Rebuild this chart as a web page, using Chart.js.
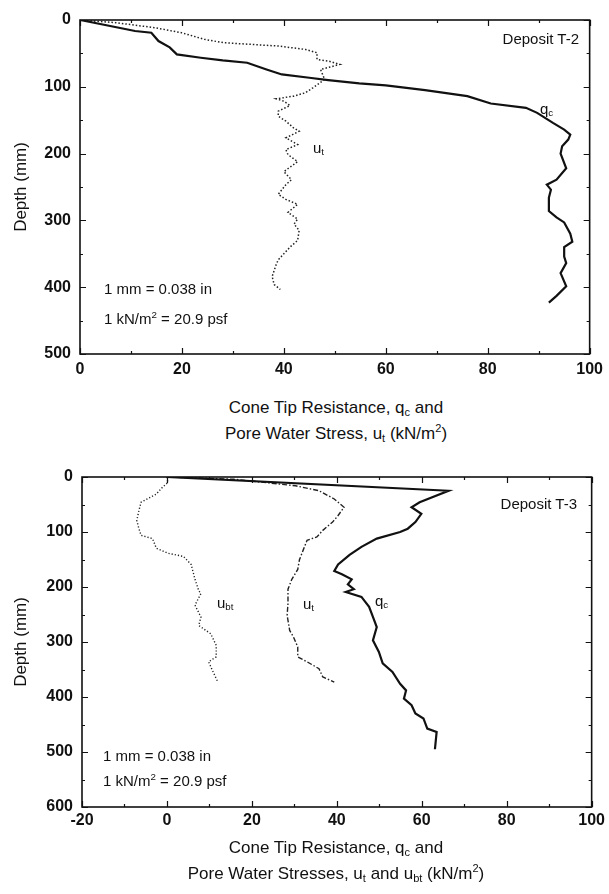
<!DOCTYPE html>
<html>
<head>
<meta charset="utf-8">
<script src="https://cdn.jsdelivr.net/npm/chart.js@4.4.0/dist/chart.umd.min.js"></script>
<style>
  html, body { margin: 0; padding: 0; background: #fff; }
  #page { position: relative; width: 609px; height: 894px; font-family: 'Liberation Sans', Arial, sans-serif; color: #111; }
  .box { position: absolute; left: 0; }
  .lbl { position: absolute; white-space: nowrap; line-height: 1; transform: translateY(-50%); }
  .cap { position: absolute; left: 0; width: 672px; text-align: center; white-space: nowrap; font-size: 17px; line-height: 1; transform: translateY(-50%); }
  .ytitle { position: absolute; font-size: 17px; white-space: nowrap; line-height: 1; transform: translate(-50%, -50%) rotate(-90deg); }
  sub { font-size: 65%; vertical-align: -0.3em; line-height: 0; }
  sup { font-size: 65%; vertical-align: 0.6em; line-height: 0; }
</style>
</head>
<body>
<div id="page">
  <div class="box" style="top:0; width:609px; height:395px;"><canvas id="chartT2" width="609" height="395"></canvas></div>
  <div class="box" style="top:457px; width:609px; height:385px;"><canvas id="chartT3" width="609" height="385"></canvas></div>

  <!-- Deposit T-2 -->
  <div class="ytitle" style="left:20px; top:187px;">Depth (mm)</div>
  <div class="lbl" style="right:30px; top:38px; font-size:15px;">Deposit T-2</div>
  <div class="lbl" style="left:540px; top:108px; font-size:15px;">q<sub>c</sub></div>
  <div class="lbl" style="left:313px; top:147px; font-size:15px;">u<sub>t</sub></div>
  <div class="lbl" style="left:104px; top:288px; font-size:15px;">1 mm = 0.038 in</div>
  <div class="lbl" style="left:104px; top:318px; font-size:15px;">1 kN/m<sup>2</sup> = 20.9 psf</div>
  <div class="cap" style="top:407px;">Cone Tip Resistance, q<sub>c</sub> and</div>
  <div class="cap" style="top:433px;">Pore Water Stress, u<sub>t</sub> (kN/m<sup>2</sup>)</div>

  <!-- Deposit T-3 -->
  <div class="ytitle" style="left:20px; top:642px;">Depth (mm)</div>
  <div class="lbl" style="right:32px; top:503px; font-size:15px;">Deposit T-3</div>
  <div class="lbl" style="left:217px; top:602px; font-size:15px;">u<sub>bt</sub></div>
  <div class="lbl" style="left:303px; top:603px; font-size:15px;">u<sub>t</sub></div>
  <div class="lbl" style="left:375px; top:600px; font-size:15px;">q<sub>c</sub></div>
  <div class="lbl" style="left:103px; top:755px; font-size:15px;">1 mm = 0.038 in</div>
  <div class="lbl" style="left:103px; top:780px; font-size:15px;">1 kN/m<sup>2</sup> = 20.9 psf</div>
  <div class="cap" style="top:847px;">Cone Tip Resistance, q<sub>c</sub> and</div>
  <div class="cap" style="top:873px;">Pore Water Stresses, u<sub>t</sub> and u<sub>bt</sub> (kN/m<sup>2</sup>)</div>
</div>

<script>
// ---- Deposit T-2 : cone tip resistance q_c ----
var t2QcDepth = [0, 16.5, 19, 31.5, 41, 51.5, 56.5, 60.5, 64, 74, 81.5, 86.5, 90, 95, 98, 105, 114, 125, 131.5, 139, 154, 164, 171.5, 179, 189, 200,
                 222, 239, 246.5, 254, 266, 286, 295.5, 303, 320, 332, 340, 354, 364, 379, 398.5, 413, 423];
var t2Qc      = [0, 10.8, 14, 15.4, 17.6, 19, 23.7, 28, 32.8, 36.6, 39.6, 45, 48.7, 54.8, 60, 67.7, 76, 80.6, 87.5, 89.7, 92.8, 95, 96.2, 95.8, 94.6, 94.3,
                 95.4, 93.5, 91.6, 92.4, 92, 92, 93.5, 95, 96.2, 96.6, 95, 95, 95.4, 94.3, 95.4, 93.5, 92];

// ---- Deposit T-2 : pore water stress u_t ----
var t2UtDepth = [0, 4, 11.5, 19, 29, 34, 36.5, 39, 44, 49, 59, 61.5, 66.5, 74, 89, 101.5, 109, 114, 118, 121.5, 128, 136.5, 144, 151.5, 161.5, 166.5, 176.5, 186.5, 194, 201.5,
                 212, 227, 239, 246.5, 261, 268.5, 276, 288, 298, 305.5, 315, 330, 340, 359, 366, 384, 396, 403.5];
var t2Ut      = [0, 7, 14.6, 19.9, 24.4, 28.2, 33.6, 38.9, 44.2, 46.5, 46.5, 48.8, 51, 47.2, 48, 45.7, 44.2, 41.9, 38.5, 40, 41.2, 38.9, 38.9, 40.4, 41.9, 43, 40.4, 42.7, 40.4, 40.8,
                 42.7, 40, 41.5, 40.4, 38.9, 40.4, 42.7, 40.8, 42.7, 42, 43, 42.7, 41.2, 38.9, 38.5, 37.7, 38.1, 39.3];

// ---- Deposit T-3 : cone tip resistance q_c ----
var t3QcDepth = [0, 25, 46, 55, 67, 82, 94, 100, 112, 127, 141.5, 159, 171, 177, 186, 195, 204, 209, 218, 227, 236, 254.5, 273, 297, 318, 339, 354.5, 376, 388, 403, 415, 430, 439, 457.5, 463.6, 495];
var t3Qc      = [0, 66.3, 59.5, 57.6, 59.9, 58.5, 56.7, 54.9, 49.4, 45.8, 43, 40.3, 39.4, 41.2, 43.5, 42.6, 44, 42.1, 45.8, 46.7, 47.6, 48.5, 49.4, 48.5, 49.9, 50.8, 53.1, 54.9, 56.3, 55.8, 57.6, 58.5, 60.4, 61.3, 63.5, 63.1];

// ---- Deposit T-3 : pore water stress u_t ----
var t3UtDepth = [0, 4, 16, 25, 40, 55, 70, 82, 97, 109, 115, 132.5, 150.5, 168, 186, 204, 230, 251.5, 279, 291, 309, 327, 336, 348.5, 363.6, 373];
var t3Ut      = [0, 15.7, 30.3, 35.8, 39.4, 41.7, 40.3, 39, 36.7, 35.3, 33, 32.1, 31.2, 30.8, 29.4, 28.5, 28.5, 28.3, 28.9, 29.8, 30.8, 30.8, 33, 35.8, 36.7, 39.4];

// ---- Deposit T-3 : pore water stress u_bt ----
var t3UbtDepth = [0, 10, 19, 31, 46, 61, 79, 94, 106, 112, 129.5, 138.5, 144.5, 159, 186, 207, 212, 233, 254.5, 270, 285, 306, 327, 336, 351.5, 373];
var t3Ubt      = [0, 0.2, -1.1, -2.5, -6.1, -6.6, -7.1, -6.6, -6.1, -3.4, -2.5, 0.2, 3.9, 5.7, 6.6, 7.5, 8, 6.6, 8, 7.5, 10.3, 11.6, 11.6, 9.8, 10.7, 12];

// ═══════════════════════════════════════════════════════════
//  Helpers
// ═══════════════════════════════════════════════════════════

function toPoints(xs, depths) {
    return xs.map(function (v, i) { return { x: v, y: depths[i] }; });
}

// frame + inward major/minor ticks on all four sides
var frameTicks = {
    id: 'frameTicks',
    afterDatasetsDraw: function (chart, args, opts) {
        var ctx = chart.ctx, a = chart.chartArea, x = chart.scales.x, y = chart.scales.y;
        ctx.save();
        ctx.strokeStyle = '#111';
        ctx.lineWidth = 1.6;
        ctx.strokeRect(a.left, a.top, a.right - a.left, a.bottom - a.top);
        ctx.lineWidth = 1.2;
        ctx.beginPath();
        var v, p, len;
        for (v = x.min; v <= x.max + 1e-6; v += opts.xMinor) {
            p = Math.round(x.getPixelForValue(v)) + 0.5;
            len = Math.abs((v - x.min) % opts.xMajor) < 1e-6 ? 6 : 3;
            ctx.moveTo(p, a.bottom); ctx.lineTo(p, a.bottom - len);
            ctx.moveTo(p, a.top); ctx.lineTo(p, a.top + len);
        }
        for (v = y.min; v <= y.max + 1e-6; v += opts.yMinor) {
            p = Math.round(y.getPixelForValue(v)) + 0.5;
            len = Math.abs((v - y.min) % opts.yMajor) < 1e-6 ? 6 : 3;
            ctx.moveTo(a.left, p); ctx.lineTo(a.left + len, p);
            ctx.moveTo(a.right, p); ctx.lineTo(a.right - len, p);
        }
        ctx.stroke();
        ctx.restore();
    }
};

var tickFont = { family: "'Liberation Sans', Arial, sans-serif", size: 16, weight: 'bold' };

function makeChart(id, datasets, cfg) {
    return new Chart(document.getElementById(id), {
        type: 'line',
        data: { datasets: datasets },
        options: {
            responsive: false,
            animation: false,
            devicePixelRatio: 1,
            parsing: true,
            layout: { padding: { left: 0, top: 20, right: 16, bottom: 0 } },
            elements: { point: { radius: 0 }, line: { tension: 0, fill: false } },
            plugins: {
                legend: { display: false },
                tooltip: { enabled: false },
                frameTicks: { xMinor: 10, xMajor: 20, yMinor: 50, yMajor: 100 }
            },
            scales: {
                x: {
                    type: 'linear', min: cfg.xMin, max: cfg.xMax,
                    grid: { display: false, drawTicks: false },
                    border: { display: false },
                    ticks: { stepSize: 20, padding: cfg.xPad, color: '#111', font: tickFont, maxRotation: 0 },
                    afterFit: function (s) { s.height = cfg.xHeight; }
                },
                y: {
                    type: 'linear', reverse: true, min: 0, max: cfg.yMax,
                    grid: { display: false, drawTicks: false },
                    border: { display: false },
                    ticks: { stepSize: 100, padding: 9, color: '#111', font: tickFont },
                    afterFit: function (s) { s.width = cfg.yWidth; }
                }
            }
        },
        plugins: [frameTicks]
    });
}

// ═══════════════════════════════════════════════════════════
//  Charts
// ═══════════════════════════════════════════════════════════

makeChart('chartT2', [
    { label: 'qc', data: toPoints(t2Qc, t2QcDepth), borderColor: '#111', borderWidth: 2.2 },
    { label: 'ut', data: toPoints(t2Ut, t2UtDepth), borderColor: '#222', borderWidth: 1.5, borderDash: [1.5, 2] }
], { xMin: 0, xMax: 100, yMax: 500, xHeight: 41, xPad: 6, yWidth: 80 });

makeChart('chartT3', [
    { label: 'qc', data: toPoints(t3Qc, t3QcDepth), borderColor: '#111', borderWidth: 2.2 },
    { label: 'ut', data: toPoints(t3Ut, t3UtDepth), borderColor: '#222', borderWidth: 1.4, borderDash: [5, 2, 1.5, 2] },
    { label: 'ubt', data: toPoints(t3Ubt, t3UbtDepth), borderColor: '#222', borderWidth: 1.4, borderDash: [1.2, 2] }
], { xMin: -20, xMax: 100, yMax: 600, xHeight: 35, xPad: 4, yWidth: 82 });
</script>
</body>
</html>
